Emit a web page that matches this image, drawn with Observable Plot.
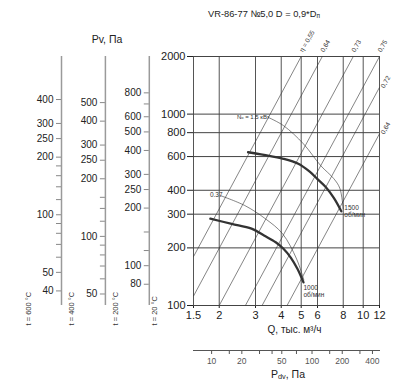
<!DOCTYPE html>
<html><head><meta charset="utf-8">
<script src="https://cdn.jsdelivr.net/npm/d3@7"></script>
<script src="https://cdn.jsdelivr.net/npm/@observablehq/plot@0.6"></script>
<style>
body{margin:0;background:#fff;}
#wrap{position:relative;width:404px;height:390px;font-family:"Liberation Sans",Arial,sans-serif;color:#222;overflow:hidden;}
#wrap svg{position:absolute;left:0;}
.lbl{position:absolute;white-space:nowrap;text-align:center;line-height:1;}
.lbl sub{font-size:0.7em;vertical-align:-0.15em;}
</style></head><body><div id="wrap">
<div class="lbl" id="title" style="left:164px;width:200px;top:10px;font-size:9.3px;">VR-86-77 №5,0 D = 0,9*D<sub>п</sub></div>
<div class="lbl" style="left:57px;width:100px;top:34px;font-size:10.5px;">Pv, Па</div>
<div class="lbl" style="left:238px;width:100px;top:369px;font-size:10.5px;">P<sub>dv</sub>, Па</div>
</div>
<script>
// ---------- data ----------
const xTicks = [1.5, 2, 3, 4, 5, 6, 8, 10, 12];
const yTicks = [100, 200, 300, 400, 600, 800, 1000, 2000];

// efficiency (system) lines: visible start/end points
const etaLabels = ["η = 0,55", "0,64", "0,73", "0,75", "0,72", "0,64"];
const etaQ1 = [1.5, 1.5, 2.0, 2.68, 3.23, 4.27];
const etaP1 = [180, 112, 100, 100, 100, 100];
const etaQ2 = [5.0, 6.33, 8.95, 12, 12, 12];
const etaP2 = [2000, 2000, 2000, 2000, 1380, 790];

// fan curves
const q1500 = [2.76, 3.3, 4.1, 4.84, 5.5, 5.98, 6.59, 7.2, 7.83];
const p1500 = [632, 612, 584, 550, 500, 459, 415, 365, 311];
const q1000 = [1.81, 2.3, 2.87, 3.3, 3.76, 4.1, 4.45, 4.8, 5.13];
const p1000 = [284, 267, 252, 232, 214, 198, 178, 155, 132];
// power lines
const qN15 = [3.47, 4.1, 5.13, 6.22, 7.2, 7.7, 8.0];
const pN15 = [960, 871, 699, 538, 460, 410, 320];
const qN037 = [2.03, 2.66, 3.35, 4.06, 4.75, 5.15];
const pN037 = [375, 333, 284, 237, 175, 136];

const curveLabels = ["1500\nоб/мин", "1000\nоб/мин", "Nₒ = 1.5 кВт", "0.37"];

// dynamic pressure scales at other temperatures
const temps = [600, 400, 200, 20];
const tempLabels = ["t = 600 °C", "t = 400 °C", "t = 200 °C", "t = 20 °C"];
const pvMajor = [
  [400, 300, 250, 200, 100, 50, 40],
  [500, 400, 300, 250, 200, 100, 50],
  [800, 600, 500, 400, 300, 250, 200, 100, 80]
];
const pvMinor = [
  [180, 160, 140, 120, 90, 80, 70, 60],
  [160, 140, 120, 90, 80, 70, 60],
  [700, 150, 120]
];

// dynamic pressure axis under the chart
const pdvDomain = [6.6, 470];
const pdvTicks = [10, 15, 20, 30, 40, 50, 70, 100, 150, 200, 300, 400];
const pdvLabels = [10, 20, 50, 100, 200, 400];

// ---------- build ----------
const FONT = "Liberation Sans, Arial, sans-serif";
const wrap = document.getElementById("wrap");
const zip = (qs, ps) => qs.map((q, i) => ({q, p: ps[i]}));
const diag = etaLabels.map((label, i) => ({label, q1: etaQ1[i], p1: etaP1[i], q2: etaQ2[i], p2: etaP2[i]}));
const diagTop = diag.filter(d => d.p2 === 2000);
const diagRight = diag.filter(d => d.p2 !== 2000);

const c1500 = zip(q1500, p1500), c1000 = zip(q1000, p1000);
const n15 = zip(qN15, pN15), n037 = zip(qN037, pN037);

const main = Plot.plot({
  width: 404, height: 345,
  marginTop: 56, marginBottom: 40, marginLeft: 193, marginRight: 25,
  style: {background: "none", fontFamily: FONT, fontSize: "11px", color: "#222", overflow: "visible"},
  x: {type: "log", domain: [1.5, 12], ticks: xTicks, tickFormat: d => String(d), tickSize: 3, tickPadding: 3, label: null},
  y: {type: "log", domain: [100, 2000], ticks: yTicks, tickFormat: d => String(d), tickSize: 6, tickPadding: 2, label: null},
  marks: [
    Plot.ruleX(xTicks, {stroke: "#555", strokeWidth: 1}),
    Plot.ruleY(yTicks, {stroke: "#444", strokeWidth: 1}),
    Plot.link(diag, {x1: "q1", y1: "p1", x2: "q2", y2: "p2", stroke: "#333", strokeWidth: 0.6}),
    Plot.text(diagTop, {x: "q2", y: "p2", text: "label", rotate: -60, textAnchor: "start", dx: 0, dy: -5, fontSize: 6.5, fill: "#333"}),
    Plot.text(diagRight, {x: "q2", y: "p2", text: "label", rotate: -60, textAnchor: "start", dx: 3, dy: 0, fontSize: 6.5, fill: "#333"}),
    Plot.line(n15, {x: "q", y: "p", curve: "catmull-rom", stroke: "#333", strokeWidth: 0.6}),
    Plot.line(n037, {x: "q", y: "p", curve: "catmull-rom", stroke: "#333", strokeWidth: 0.6}),
    Plot.line(c1500, {x: "q", y: "p", curve: "catmull-rom", stroke: "#333", strokeWidth: 2.3}),
    Plot.line(c1000, {x: "q", y: "p", curve: "catmull-rom", stroke: "#333", strokeWidth: 2.3}),
    Plot.text([c1500[c1500.length - 1]], {x: "q", y: "p", text: [curveLabels[0]], textAnchor: "start", lineAnchor: "middle", lineHeight: 1.05, dx: 3, dy: 0, fontSize: 6.5, fill: "#333"}),
    Plot.text([c1000[c1000.length - 1]], {x: "q", y: "p", text: [curveLabels[1]], textAnchor: "start", lineAnchor: "middle", lineHeight: 1.05, dx: 0, dy: 9, fontSize: 6.5, fill: "#333"}),
    Plot.text([n15[0]], {x: "q", y: "p", text: [curveLabels[2]], textAnchor: "end", dx: 1, dy: 0, fontSize: 6, fill: "#333"}),
    Plot.text([n037[0]], {x: "q", y: "p", text: [curveLabels[3]], textAnchor: "end", dx: 2, dy: -1, fontSize: 6.5, fill: "#333"}),
    Plot.text(["Q, тыс. м³/ч"], {frameAnchor: "bottom", dx: 8, dy: 27, fontSize: 10, fill: "#222"})
  ]
});

// left auxiliary Pv scales
const SLOT_TICK = 0.114; // tick length in slot units (~5px)
const tickRows = [];
pvMajor.forEach((arr, i) => {
  const k = (273 + temps[i]) / (273 + temps[3]);
  arr.forEach(v => tickRows.push({slot: i, v, y: v * k, major: true}));
  pvMinor[i].forEach(v => tickRows.push({slot: i, v, y: v * k, major: false}));
});
const slots = temps.map((t, i) => ({slot: i, label: tempLabels[i]}));

const left = Plot.plot({
  width: 193, height: 345,
  marginTop: 56, marginBottom: 40, marginLeft: 0, marginRight: 0,
  style: {background: "none", fontFamily: FONT, fontSize: "10px", color: "#222", overflow: "visible"},
  x: {type: "linear", domain: [0, 3], range: [61, 192.7], axis: null},
  y: {type: "log", domain: [100, 2000], axis: null},
  marks: [
    Plot.ruleX(slots.slice(0, 3), {x: "slot", y1: 100, y2: 2000, stroke: "#9a9a9a", strokeWidth: 1.5}),
    Plot.ruleY(tickRows, {y: "y", x1: d => d.slot - SLOT_TICK, x2: "slot", stroke: "#888", strokeWidth: 1}),
    Plot.text(tickRows.filter(d => d.major), {x: "slot", y: "y", text: d => String(d.v), textAnchor: "end", dx: -8, fontSize: 10, fill: "#222"}),
    Plot.text(slots.slice(0, 3), {x: "slot", text: "label", frameAnchor: "bottom", rotate: -90, textAnchor: "start", dx: -31, dy: 20, fontSize: 7.5, fill: "#333"}),
    Plot.text(slots.slice(3), {x: "slot", text: "label", frameAnchor: "bottom", rotate: -90, textAnchor: "start", dx: -36, dy: 20, fontSize: 7.5, fill: "#333"})
  ]
});

// Pdv axis
const pdv = Plot.plot({
  width: 404, height: 40,
  marginTop: 0, marginBottom: 30, marginLeft: 193, marginRight: 25,
  style: {background: "none", fontFamily: FONT, fontSize: "8.5px", color: "#555", overflow: "visible"},
  x: {type: "log", domain: pdvDomain, ticks: pdvTicks, tickFormat: d => pdvLabels.includes(d) ? String(d) : "", tickSize: 4, tickPadding: 3, line: true, label: null},
  marks: [Plot.ruleX(pdvTicks, {strokeOpacity: 0})]
});

left.style.top = "0px";
main.style.top = "0px";
pdv.style.top = "339.5px";
wrap.appendChild(left);
wrap.appendChild(main);
wrap.appendChild(pdv);
</script>
</body></html>
